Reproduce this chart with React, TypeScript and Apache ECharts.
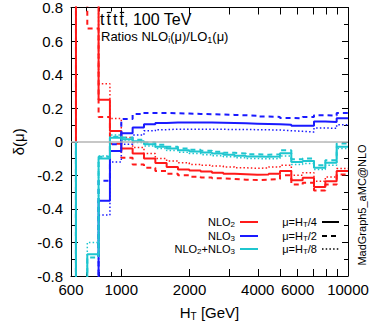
import React, { useEffect, useRef } from 'react';
import * as echarts from 'echarts';

// bin edges of HT [GeV]
const EDGES = [631, 708, 794, 891, 1000, 1122, 1259, 1413, 1585, 1778, 1995, 2239, 2512, 2818, 3162, 3548, 3981, 4467, 5012, 5623, 6310, 7079, 7943, 8913, 10000];

// NLO2 ratios (values beyond the frame are drawn off-scale)
const NLO2_HT4 = [1.0, 1.0, 0.25, 0.064, -0.04, -0.07, -0.1, -0.126, -0.15, -0.165, -0.172, -0.178, -0.185, -0.19, -0.193, -0.197, -0.195, -0.19, -0.175, -0.23, -0.215, -0.27, -0.235, -0.175];
const NLO2_HT2 = [1.0, 0.675, 0.148, -0.012, -0.095, -0.135, -0.155, -0.175, -0.19, -0.2, -0.208, -0.213, -0.218, -0.222, -0.226, -0.228, -0.226, -0.222, -0.2, -0.255, -0.245, -0.29, -0.255, -0.195];
const NLO2_HT8 = [1.0, 1.0, 0.346, 0.138, 0.025, -0.035, -0.07, -0.1, -0.115, -0.125, -0.135, -0.14, -0.145, -0.15, -0.155, -0.158, -0.156, -0.15, -0.14, -0.2, -0.185, -0.235, -0.21, -0.16];
// NLO3 ratios
const NLO3_HT4 = [-1, -1, -0.352, -0.055, 0.05, 0.085, 0.105, 0.112, 0.115, 0.115, 0.115, 0.114, 0.113, 0.112, 0.11, 0.108, 0.106, 0.104, 0.102, 0.095, 0.095, 0.12, 0.118, 0.14];
const NLO3_HT2 = [-1, -1, -0.233, -0.015, 0.135, 0.165, 0.172, 0.172, 0.17, 0.168, 0.166, 0.164, 0.162, 0.16, 0.158, 0.155, 0.15, 0.148, 0.142, 0.14, 0.147, 0.158, 0.156, 0.172];
const NLO3_HT8 = [-1, -1, -0.437, -0.12, -0.015, 0.04, 0.065, 0.072, 0.075, 0.075, 0.075, 0.074, 0.074, 0.073, 0.073, 0.072, 0.071, 0.07, 0.066, 0.062, 0.058, 0.082, 0.08, 0.102];
// NLO2+NLO3 ratios
const SUM_HT4 = [-1, -0.67, -0.1, 0.024, 0.015, 0.003, -0.015, -0.03, -0.04, -0.05, -0.058, -0.064, -0.07, -0.078, -0.083, -0.088, -0.09, -0.088, -0.068, -0.12, -0.115, -0.155, -0.125, -0.03];
const SUM_HT2 = [-1, -0.69, -0.09, 0.03, 0.025, 0.012, -0.005, -0.018, -0.03, -0.04, -0.047, -0.053, -0.06, -0.066, -0.07, -0.075, -0.077, -0.075, -0.05, -0.105, -0.1, -0.14, -0.11, -0.01];
const SUM_HT8 = [-1, -0.6, -0.085, 0.04, 0.01, -0.005, -0.025, -0.04, -0.052, -0.062, -0.07, -0.077, -0.083, -0.09, -0.095, -0.1, -0.102, -0.1, -0.085, -0.135, -0.13, -0.165, -0.14, -0.04];

const X_LABELS = [600, 1000, 2000, 4000, 6000, 10000];
const X_MAJOR_TICKS = [1000, 2000, 3000, 4000, 5000, 6000, 7000, 8000, 9000, 10000];
const X_MINOR_TICKS = [600, 700, 800, 900];

const RED = '#ff1a1a';
const BLUE = '#1a1aff';
const CYAN = '#1fc6cf';
const FONT = 'Liberation Sans';
const DASH = [5, 4];
const DOT = [1.5, 2.2];

function steps(vals: number[]) {
  const pts: number[][] = [[EDGES[0], 0]];
  vals.forEach((v, i) => {
    pts.push([EDGES[i], v]);
    pts.push([EDGES[i + 1], v]);
  });
  return pts;
}

function lineSeries(vals: number[], color: string, type: any, width = 2, extra: any = {}) {
  return {
    type: 'line',
    data: steps(vals),
    showSymbol: false,
    symbol: 'none',
    clip: true,
    silent: true,
    xAxisIndex: 0,
    yAxisIndex: 0,
    lineStyle: { color, width, type },
    ...extra,
  };
}

export default function App() {
  const ref = useRef<HTMLDivElement>(null);
  useEffect(() => {
    if (!ref.current) return;
    const chart = echarts.init(ref.current, undefined, { renderer: 'svg' });
    const xBase = {
      type: 'log',
      logBase: 10,
      min: 600,
      max: 10000,
      gridIndex: 0,
      splitLine: { show: false },
    };
    const yBase = {
      type: 'value',
      min: -0.8,
      max: 0.8,
      interval: 0.2,
      gridIndex: 0,
      splitLine: { show: false },
    };
    const subStyle = { s: { fontSize: 8, padding: [5, 0, 0, 0], fontFamily: FONT } };
    const legendRow = (y: number, label: string, color: string) => [
      {
        type: 'text',
        x: 235,
        y,
        style: { text: label, align: 'right', verticalAlign: 'middle', font: `11px ${FONT}`, fill: '#000', rich: subStyle },
      },
      { type: 'line', shape: { x1: 240, y1: y, x2: 258, y2: y }, style: { stroke: color, lineWidth: 2 } },
    ];
    const scaleRow = (y: number, label: string, dash: string) => [
      {
        type: 'text',
        x: 317,
        y,
        style: { text: label, align: 'right', verticalAlign: 'middle', font: `11px ${FONT}`, fill: '#000', rich: subStyle },
      },
      {
        type: 'line',
        shape: { x1: 322, y1: y, x2: 339, y2: y },
        style: { stroke: '#000', lineWidth: dash === 'dot' ? 1.5 : 2, lineDash: dash === 'solid' ? null : dash === 'dot' ? DOT : DASH },
      },
    ];
    const tX = [100, 106.5, 113, 119.5];
    const titleParts: any[] = tX.map((x) => ({ type: 'text', x, y: 11, style: { text: 't', font: `16px ${FONT}`, fill: '#000' } }));
    const bars: any[] = [tX[1], tX[3]].map((x) => ({
      type: 'line',
      shape: { x1: x + 0.3, y1: 12.5, x2: x + 4.7, y2: 12.5 },
      style: { stroke: '#000', lineWidth: 1.2 },
    }));
    chart.setOption({
      animation: false,
      backgroundColor: '#fff',
      grid: { left: 71, right: 26, top: 7, bottom: 52, containLabel: false },
      xAxis: [
        {
          ...xBase,
          position: 'bottom',
          axisLine: { show: true, onZero: false, lineStyle: { color: '#000', width: 1 } },
          axisTick: { show: true, inside: true, length: 7, customValues: X_MAJOR_TICKS, lineStyle: { color: '#000' } },
          axisLabel: { customValues: X_LABELS, color: '#000', fontSize: 15, fontFamily: FONT, margin: 6, formatter: (v: number) => String(Math.round(v)) },
          name: '{a|H}{b|T}{a| [GeV]}',
          nameLocation: 'middle',
          nameGap: 27,
          nameTextStyle: {
            rich: {
              a: { fontSize: 15, fontFamily: FONT, color: '#000' },
              b: { fontSize: 10, fontFamily: FONT, color: '#000', padding: [8, 0, 0, 0] },
            },
          },
        },
        {
          ...xBase,
          position: 'bottom',
          axisLine: { show: false, onZero: false },
          axisTick: { show: true, inside: true, length: 4, customValues: X_MINOR_TICKS, lineStyle: { color: '#000' } },
          axisLabel: { show: false },
        },
        {
          ...xBase,
          position: 'top',
          axisLine: { show: true, onZero: false, lineStyle: { color: '#000', width: 1 } },
          axisTick: { show: true, inside: true, length: 7, customValues: X_MAJOR_TICKS, lineStyle: { color: '#000' } },
          axisLabel: { show: false },
        },
        {
          ...xBase,
          position: 'top',
          axisLine: { show: false, onZero: false },
          axisTick: { show: true, inside: true, length: 4, customValues: X_MINOR_TICKS, lineStyle: { color: '#000' } },
          axisLabel: { show: false },
        },
      ],
      yAxis: [
        {
          ...yBase,
          position: 'left',
          axisLine: { show: true, onZero: false, lineStyle: { color: '#000', width: 1 } },
          axisTick: { show: true, inside: true, length: 7, lineStyle: { color: '#000' } },
          minorTick: { show: true, splitNumber: 2, length: 4, lineStyle: { color: '#000' } },
          axisLabel: {
            color: '#000',
            fontSize: 15,
            fontFamily: FONT,
            margin: 8,
            formatter: (v: number) => (Math.abs(v) < 1e-9 ? '0' : v.toFixed(1)),
          },
          name: 'δ(μ)',
          nameLocation: 'middle',
          nameGap: 42,
          nameTextStyle: { fontSize: 15, fontFamily: FONT, color: '#000' },
        },
        {
          ...yBase,
          position: 'right',
          axisLine: { show: true, onZero: false, lineStyle: { color: '#000', width: 1 } },
          axisTick: { show: true, inside: true, length: 6, lineStyle: { color: '#000' } },
          minorTick: { show: true, splitNumber: 2, length: 4, lineStyle: { color: '#000' } },
          axisLabel: { show: false },
        },
      ],
      series: [
        lineSeries(NLO2_HT4, RED, 'solid', 2, {
          markLine: {
            silent: true,
            symbol: ['none', 'none'],
            label: { show: false },
            lineStyle: { color: '#b5b5b5', width: 1.5, type: 'solid' },
            data: [{ yAxis: 0 }],
          },
        }),
        lineSeries(NLO2_HT2, RED, DASH),
        lineSeries(NLO2_HT8, RED, DOT, 1.5),
        lineSeries(NLO3_HT4, BLUE, 'solid'),
        lineSeries(NLO3_HT2, BLUE, DASH),
        lineSeries(NLO3_HT8, BLUE, DOT, 1.5),
        lineSeries(SUM_HT4, CYAN, 'solid'),
        lineSeries(SUM_HT2, CYAN, DASH),
        lineSeries(SUM_HT8, CYAN, DOT, 1.5),
      ],
      graphic: [
        ...titleParts,
        ...bars,
        {
          type: 'text',
          x: 124,
          y: 11,
          style: { text: ', 100 TeV', font: `16px ${FONT}`, fill: '#000' },
        },
        {
          type: 'text',
          x: 101,
          y: 29,
          style: {
            text: 'Ratios NLO{s|i}(μ)/LO{s|1}(μ)',
            font: `13px ${FONT}`,
            fill: '#000',
            rich: { s: { fontSize: 9, padding: [6, 0, 0, 0], fontFamily: FONT } },
          },
        },
        ...legendRow(222, 'NLO{s|2}', RED),
        ...legendRow(236, 'NLO{s|3}', BLUE),
        ...legendRow(249, 'NLO{s|2}+NLO{s|3}', CYAN),
        ...scaleRow(222, 'μ=H{s|T}/4', 'solid'),
        ...scaleRow(236, 'μ=H{s|T}/2', 'dash'),
        ...scaleRow(249, 'μ=H{s|T}/8', 'dot'),
        {
          type: 'text',
          x: 362,
          y: 205,
          rotation: Math.PI / 2,
          style: { text: 'MadGraph5_aMC@NLO', align: 'center', verticalAlign: 'middle', font: `11px ${FONT}`, fill: '#000' },
        },
      ],
    });
    return () => chart.dispose();
  }, []);
  return <div ref={ref} style={{ position: 'fixed', left: 0, top: 0, width: 374, height: 328, background: '#fff' }} />;
}
